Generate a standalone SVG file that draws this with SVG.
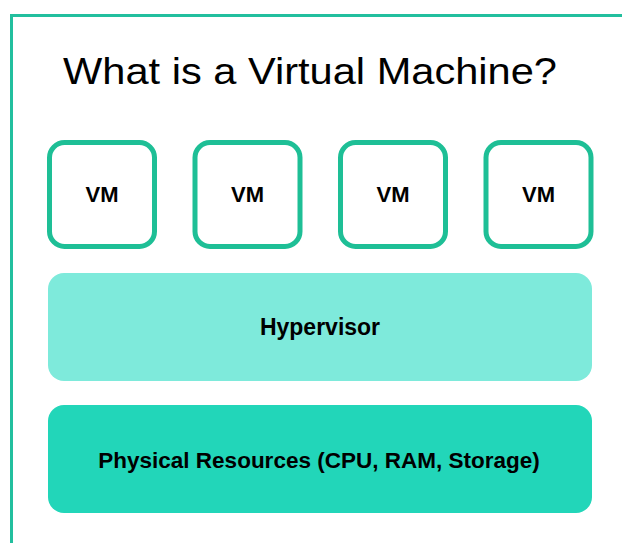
<svg xmlns="http://www.w3.org/2000/svg" width="622" height="543" viewBox="0 0 622 543">
<style>
.frame{stroke:#22bf9e;stroke-width:3;fill:none}
.vm{fill:#fff;stroke:#1ebf96;stroke-width:5}
.lbl{font-family:"Liberation Sans",Arial,sans-serif;font-weight:bold;fill:#000;text-anchor:middle;dominant-baseline:central}
.title{font-family:"Liberation Sans",Arial,sans-serif;font-size:37px;fill:#000}
</style>
<rect width="622" height="543" fill="#fff"/>
<path class="frame" d="M11.5 543 V15.5 H622"/>
<text class="title" x="63" y="84" textLength="494" lengthAdjust="spacingAndGlyphs">What is a Virtual Machine?</text>
<g id="vm1"><rect class="vm" x="49.5" y="142.5" width="105" height="104" rx="15"/><text class="lbl" x="102" y="194" font-size="22">VM</text></g>
<g id="vm2"><rect class="vm" x="195" y="142.5" width="105" height="104" rx="15"/><text class="lbl" x="247.5" y="194" font-size="22">VM</text></g>
<g id="vm3"><rect class="vm" x="340.5" y="142.5" width="105" height="104" rx="15"/><text class="lbl" x="393" y="194" font-size="22">VM</text></g>
<g id="vm4"><rect class="vm" x="486" y="142.5" width="105" height="104" rx="15"/><text class="lbl" x="538.5" y="194" font-size="22">VM</text></g>
<g id="hypervisor"><rect x="48" y="273" width="544" height="108" rx="16" fill="#7eeadb"/><text class="lbl" x="320" y="327" font-size="23">Hypervisor</text></g>
<g id="physical"><rect x="48" y="405" width="544" height="108" rx="16" fill="#22d6b9"/><text class="lbl" x="319" y="460" font-size="22.5">Physical Resources (CPU, RAM, Storage)</text></g>
<g id="connectors"/>
</svg>
